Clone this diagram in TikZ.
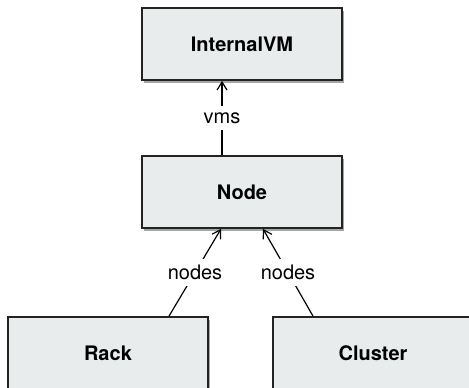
\documentclass[tikz,border=0pt]{standalone}
\usepackage{fontspec}
\setmainfont{TeX Gyre Heros}
\usetikzlibrary{arrows.meta,shadows}

\definecolor{boxfill}{RGB}{233,236,237}
\definecolor{boxline}{RGB}{35,35,35}

\tikzstyle{entity} = [draw=boxline, fill=boxfill, line width=0.9pt,
  minimum width=100pt, minimum height=36pt, inner sep=0pt,
  font=\bfseries,
  drop shadow={shadow xshift=1.2pt, shadow yshift=-1.4pt, fill=black, opacity=0.35}]
\tikzstyle{role} = [fill=white, inner xsep=1.5pt, inner ysep=3pt]
\tikzstyle{assoc} = [line width=0.6pt, -{Straight Barb[length=4pt, width=5pt]}]

\begin{document}
\begin{tikzpicture}[x=0.5pt, y=-0.5pt]
\clip (0,0) rectangle (469,387);

\node[entity] (vm) at (242,44) {InternalVM};
\node[entity] (node) at (242,192) {Node};
\node[entity] (rack) at (108,353) {Rack};
\node[entity] (cluster) at (373,353) {Cluster};

\draw[assoc] ([xshift=-10pt]node.north) -- node[role] {vms} ([xshift=-10pt]vm.south);
\draw[assoc] ([xshift=30.5pt]rack.north) -- node[role] {nodes} ([xshift=-10.5pt]node.south);
\draw[assoc] ([xshift=-30pt]cluster.north) -- node[role] {nodes} ([xshift=10.5pt]node.south);
\end{tikzpicture}
\end{document}
